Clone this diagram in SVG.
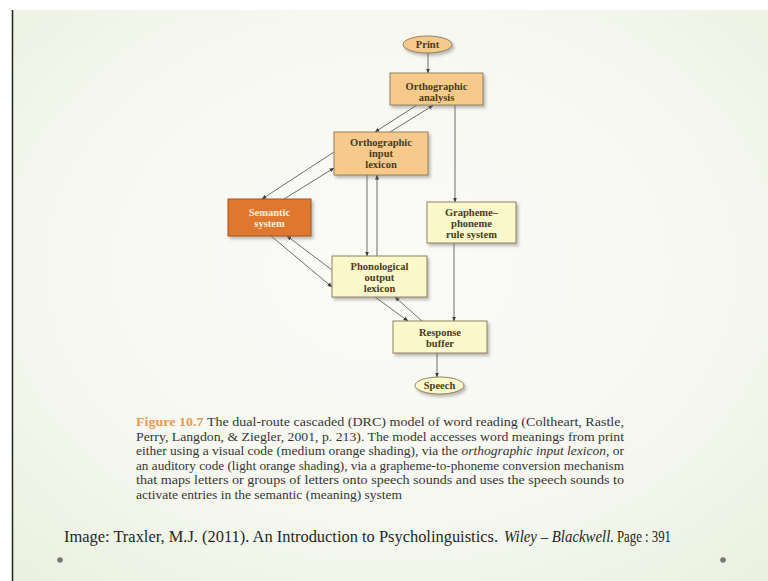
<svg xmlns="http://www.w3.org/2000/svg" width="768" height="581" viewBox="0 0 768 581">
  <defs>
    <radialGradient id="bg" cx="0.5" cy="0.45" r="0.75">
      <stop offset="0" stop-color="#fbfbf8"/>
      <stop offset="0.6" stop-color="#f6f8f0"/>
      <stop offset="1" stop-color="#eaf0de"/>
    </radialGradient>
    <filter id="shadow" x="-20%" y="-20%" width="150%" height="160%">
      <feDropShadow dx="2" dy="2.5" stdDeviation="1.6" flood-color="#6b6b60" flood-opacity="0.45"/>
    </filter>
    <marker id="arrow" viewBox="0 0 10 10" refX="9" refY="5" markerWidth="5" markerHeight="5" orient="auto" markerUnits="userSpaceOnUse">
      <path d="M0,1 L10,5 L0,9 Z" fill="#3c3c3c"/>
    </marker>
    <style>
      .box { stroke: #8f8262; stroke-width: 1; filter: url(#shadow); }
      .mid { fill: #f7c98b; }
      .dark { fill: #df772d; stroke: #a85520; }
      .light { fill: #fbf8cb; }
      .lbl { font-family: "Liberation Serif", serif; font-weight: bold; font-size: 10.5px; fill: #4a3b1c; text-anchor: middle; }
      .lbl-w { fill: #fdf0e0; }
      .edge { stroke: #4a4a4a; stroke-width: 0.8; fill: none; marker-end: url(#arrow); }
      .cap { font-family: "Liberation Serif", serif; font-size: 13px; fill: #353535; }
      .foot { font-family: "Liberation Serif", serif; font-size: 16px; fill: #262626; }
    </style>
  </defs>

  <!-- slide background and frame -->
  <rect x="0" y="0" width="768" height="581" fill="#ffffff"/>
  <rect x="13" y="10" width="755" height="571" fill="url(#bg)"/>
  <line x1="12.5" y1="10" x2="12.5" y2="581" stroke="#1f241d" stroke-width="1.5"/>

  <!-- connectors -->
  <g id="connectors">
    <line class="edge" x1="428" y1="53" x2="428" y2="73"/>
    <line class="edge" x1="417" y1="105" x2="375" y2="132"/>
    <line class="edge" x1="390" y1="132" x2="433" y2="105.5"/>
    <line class="edge" x1="455" y1="105" x2="455" y2="202"/>
    <line class="edge" x1="334" y1="152" x2="262" y2="199"/>
    <line class="edge" x1="284" y1="199" x2="334" y2="168"/>
    <line class="edge" x1="367" y1="175" x2="367" y2="256"/>
    <line class="edge" x1="377" y1="256" x2="377" y2="175"/>
    <line class="edge" x1="271" y1="236" x2="332" y2="287"/>
    <line class="edge" x1="332" y1="270" x2="287" y2="236"/>
    <line class="edge" x1="375" y1="297" x2="408" y2="321"/>
    <line class="edge" x1="422" y1="321" x2="395" y2="297"/>
    <line class="edge" x1="454" y1="243" x2="454" y2="321"/>
    <line class="edge" x1="437" y1="353" x2="437" y2="377"/>
  </g>

  <!-- nodes -->
  <g id="print">
    <ellipse class="box mid" cx="427.5" cy="44.5" rx="24.5" ry="8.5"/>
    <text class="lbl" x="427.5" y="48">Print</text>
  </g>
  <g id="orthographic-analysis">
    <rect class="box mid" x="390" y="73" width="93" height="32"/>
    <text class="lbl" x="436.5" y="90">Orthographic</text>
    <text class="lbl" x="436.5" y="100.5">analysis</text>
  </g>
  <g id="orthographic-input-lexicon">
    <rect class="box mid" x="334" y="132" width="94" height="43"/>
    <text class="lbl" x="381" y="146">Orthographic</text>
    <text class="lbl" x="381" y="156.5">input</text>
    <text class="lbl" x="381" y="167.5">lexicon</text>
  </g>
  <g id="semantic-system">
    <rect class="box dark" x="228" y="199" width="83" height="37"/>
    <text class="lbl lbl-w" x="269.5" y="216">Semantic</text>
    <text class="lbl lbl-w" x="269.5" y="227">system</text>
  </g>
  <g id="grapheme-phoneme-rule-system">
    <rect class="box light" x="427" y="202" width="89" height="41"/>
    <text class="lbl" x="471.5" y="216">Grapheme–</text>
    <text class="lbl" x="471.5" y="226.5">phoneme</text>
    <text class="lbl" x="471.5" y="237.5">rule system</text>
  </g>
  <g id="phonological-output-lexicon">
    <rect class="box light" x="332" y="256" width="95" height="41"/>
    <text class="lbl" x="379.5" y="269.5">Phonological</text>
    <text class="lbl" x="379.5" y="280.5">output</text>
    <text class="lbl" x="379.5" y="291.5">lexicon</text>
  </g>
  <g id="response-buffer">
    <rect class="box light" x="393" y="321" width="94" height="32"/>
    <text class="lbl" x="440" y="336">Response</text>
    <text class="lbl" x="440" y="347">buffer</text>
  </g>
  <g id="speech">
    <ellipse class="box light" cx="439.5" cy="385.5" rx="24.5" ry="8.5"/>
    <text class="lbl" x="439.5" y="389">Speech</text>
  </g>

  <!-- figure caption -->
  <g id="caption">
    <text class="cap" x="136" y="426" textLength="488" lengthAdjust="spacingAndGlyphs"><tspan fill="#e79a55" font-weight="bold">Figure 10.7</tspan>  The dual-route cascaded (DRC) model of word reading (Coltheart, Rastle,</text>
    <text class="cap" x="136" y="440.5" textLength="488" lengthAdjust="spacingAndGlyphs">Perry, Langdon, &amp; Ziegler, 2001, p. 213). The model accesses word meanings from print</text>
    <text class="cap" x="136" y="455" textLength="488" lengthAdjust="spacingAndGlyphs">either using a visual code (medium orange shading), via the <tspan font-style="italic">orthographic input lexicon</tspan>, or</text>
    <text class="cap" x="136" y="469.5" textLength="488" lengthAdjust="spacingAndGlyphs">an auditory code (light orange shading), via a grapheme-to-phoneme conversion mechanism</text>
    <text class="cap" x="136" y="484" textLength="488" lengthAdjust="spacingAndGlyphs">that maps letters or groups of letters onto speech sounds and uses the speech sounds to</text>
    <text class="cap" x="136" y="498.5" textLength="266" lengthAdjust="spacingAndGlyphs">activate entries in the semantic (meaning) system</text>
  </g>

  <!-- source line and slide bullets -->
  <g id="source">
    <text class="foot" x="64" y="542" textLength="434" lengthAdjust="spacingAndGlyphs">Image: Traxler, M.J. (2011). An Introduction to Psycholinguistics.</text>
    <text class="foot" x="504" y="542" textLength="110" lengthAdjust="spacingAndGlyphs" font-style="italic">Wiley – Blackwell.</text>
    <text class="foot" x="617" y="542" textLength="54" lengthAdjust="spacingAndGlyphs">Page : 391</text>
  </g>
  <circle cx="60" cy="560" r="2.8" fill="#777"/>
  <circle cx="723" cy="560" r="2.8" fill="#777"/>
</svg>
